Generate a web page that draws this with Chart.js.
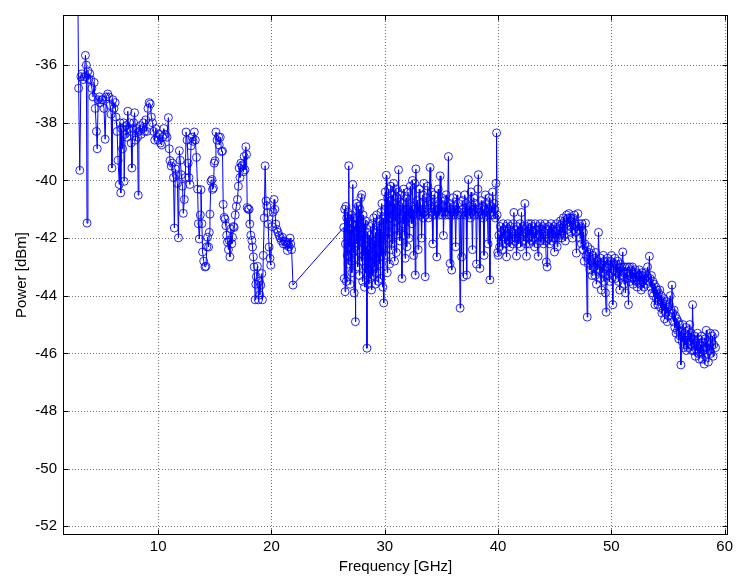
<!DOCTYPE html>
<html>
<head>
<meta charset="utf-8">
<title>Power spectrum</title>
<script src="https://cdn.jsdelivr.net/npm/chart.js@4/dist/chart.umd.min.js"></script>
<style>
  html, body { margin: 0; padding: 0; background: #ffffff; }
  #wrap { width: 736px; height: 581px; }
  canvas { display: block; }
</style>
</head>
<body>
<div id="wrap"><canvas id="spectrum" width="736" height="581"></canvas></div>
<script>
// Measured sweep, split by band. Frequencies in GHz, power in dBm.
const lowFreq = [
  2.92, 2.98, 3.08, 3.18, 3.28, 3.38, 3.48, 3.58, 3.66, 3.72,
  3.80, 3.88, 3.96, 4.05, 4.15, 4.25, 4.35, 4.45, 4.55, 4.62,
  4.70, 4.80, 4.90, 5.00, 5.10, 5.22, 5.32, 5.42, 5.55, 5.65,
  5.75, 5.85, 5.92, 6.00, 6.10, 6.20, 6.28, 6.38, 6.46, 6.57,
  6.64, 6.70, 6.78, 6.86, 6.94, 7.00, 7.08, 7.16, 7.24, 7.32,
  7.40, 7.48, 7.56, 7.62, 7.68, 7.76, 7.84, 7.92, 8.00, 8.10,
  8.18, 8.24, 8.30, 8.40, 8.50, 8.60, 8.70, 8.80, 8.90, 9.00,
  9.10, 9.20, 9.30, 9.40, 9.50, 9.60, 9.70, 9.80, 9.90, 10.00,
  10.10, 10.20, 10.30, 10.40, 10.50, 10.62, 10.78, 10.90, 10.98, 11.05,
  11.15, 11.25, 11.35, 11.43, 11.52, 11.60, 11.70, 11.79, 11.87, 11.95,
  12.05, 12.15, 12.22, 12.31, 12.40, 12.46, 12.55, 12.65, 12.72, 12.80,
  12.90, 13.00, 13.08, 13.19, 13.28, 13.38, 13.48, 13.55, 13.63, 13.72,
  13.78, 13.86, 13.92, 14.02, 14.13, 14.22, 14.30, 14.36, 14.45, 14.51,
  14.57, 14.66, 14.75, 14.80, 14.88, 14.95, 15.02, 15.10, 15.20, 15.33,
  15.39, 15.48, 15.60, 15.68, 15.74, 15.83, 15.90, 15.98, 16.05, 16.12,
  16.20, 16.27, 16.33, 16.42, 16.50, 16.56, 16.64, 16.71, 16.80, 16.90,
  17.00, 17.08, 17.15, 17.22, 17.30, 17.39, 17.44, 17.52, 17.59, 17.66,
  17.74, 17.80, 17.86, 17.94, 18.03, 18.09, 18.18, 18.27, 18.33, 18.40,
  18.47, 18.56, 18.62, 18.67, 18.76, 18.85, 18.92, 18.97, 19.06, 19.15,
  19.20, 19.28, 19.36, 19.44, 19.52, 19.59, 19.64, 19.70, 19.79, 19.87,
  19.94, 20.05, 20.15, 20.23, 20.30, 20.38, 20.48, 20.58, 20.67, 20.78,
  20.88, 20.96, 21.05, 21.15, 21.26, 21.34, 21.40, 21.48, 21.56, 21.64,
  21.70, 21.78, 21.90
];
const lowPower = [
  -33.9, -36.8, -39.65, -36.4, -36.3, -36.5, -36.4, -35.66, -36.0, -41.48,
  -36.2, -36.5, -36.3, -36.5, -36.8, -37.1, -36.6, -37.5, -38.3, -38.9,
  -37.2, -37.1, -37.3, -37.2, -37.2, -37.5, -38.57, -37.1, -37.0, -37.1,
  -37.4, -37.7, -39.57, -37.2, -37.5, -37.3, -37.8, -38.3, -39.3, -40.14,
  -38.0, -40.43, -38.2, -38.9, -38.0, -40.03, -38.4, -38.1, -38.5, -37.6,
  -38.2, -38.0, -38.3, -38.7, -39.57, -38.2, -38.0, -37.65, -38.6, -38.2,
  -38.5, -40.51, -38.3, -38.1, -38.4, -38.2, -38.0, -38.3, -37.9, -38.3,
  -37.5, -37.3, -37.35, -37.8, -38.0, -38.3, -38.6, -38.2, -38.5, -38.6,
  -38.4, -38.7, -38.77, -38.5, -38.2, -38.4, -38.5, -37.82, -38.9, -39.31,
  -39.5, -39.4, -39.9, -41.65, -39.6, -39.8, -40.1, -41.99, -38.97, -39.3,
  -39.8, -40.2, -41.14, -40.66, -39.9, -38.32, -38.6, -39.4, -39.9, -40.14,
  -38.8, -38.5, -38.64, -38.32, -38.6, -39.2, -40.3, -41.5, -42.03, -41.2,
  -40.32, -41.5, -42.48, -42.8, -43.0, -42.98, -42.3, -41.97, -42.31, -41.8,
  -41.17, -40.03, -39.97, -40.31, -40.26, -39.4, -39.32, -38.32, -38.6, -38.49,
  -38.77, -38.5, -39.0, -38.98, -40.83, -41.28, -41.34, -41.57, -41.9, -42.14,
  -42.4, -42.08, -42.65, -41.68, -42.2, -41.97, -41.6, -41.63, -41.2, -40.9,
  -40.66, -40.2, -39.57, -39.9, -39.4, -39.5, -39.46, -39.7, -39.17, -39.63,
  -38.83, -39.1, -40.94, -41.0, -41.0, -41.51, -41.9, -42.08, -42.31, -42.65,
  -43.0, -44.14, -43.6, -43.34, -42.98, -44.14, -43.5, -43.97, -43.63, -43.23,
  -44.14, -42.6, -41.3, -39.49, -40.71, -40.88, -41.11, -41.51, -42.31, -42.7,
  -42.94, -41.6, -41.1, -40.66, -41.0, -41.51, -41.7, -41.8, -41.91, -42.0,
  -42.1, -41.97, -42.2, -42.1, -42.14, -42.25, -42.43, -42.2, -42.3, -42.0,
  -42.2, -42.4, -43.63
];

const kaLowFreq = [
  26.38, 26.42, 26.46, 26.50, 26.53, 26.57, 26.61, 26.65, 26.69, 26.73,
  26.77, 26.82, 26.86, 26.90, 26.94, 26.98, 27.02, 27.06, 27.10, 27.14,
  27.18, 27.22, 27.26, 27.30, 27.34, 27.38, 27.41, 27.45, 27.49, 27.53,
  27.57, 27.61, 27.65, 27.69, 27.73, 27.77, 27.81, 27.85, 27.89, 27.93,
  27.97, 28.01, 28.05, 28.09, 28.13, 28.17, 28.21, 28.25, 28.29, 28.33,
  28.37, 28.43, 28.47, 28.51, 28.55, 28.59, 28.63, 28.67, 28.71, 28.75,
  28.79, 28.83, 28.87, 28.91, 28.95, 28.99, 29.03, 29.07, 29.11, 29.15,
  29.19, 29.23, 29.27, 29.31, 29.35, 29.39, 29.43, 29.47, 29.51, 29.55,
  29.59, 29.63, 29.67, 29.71, 29.75, 29.79, 29.83, 29.87, 29.91, 29.95,
  29.99
];
const kaLowPower = [
  -41.63, -43.4, -41.0, -43.86, -42.2, -40.9, -43.5, -41.3, -42.6, -41.1,
  -42.9, -39.49, -42.3, -41.4, -43.6, -41.7, -42.8, -41.2, -43.2, -41.5,
  -40.14, -42.5, -41.3, -43.9, -41.6, -42.7, -44.9, -41.8, -40.8, -42.2,
  -41.3, -43.0, -40.9, -42.4, -41.6, -43.3, -41.0, -42.1, -40.6, -42.8,
  -40.49, -41.9, -43.5, -41.2, -42.6, -41.5, -43.7, -42.0, -41.4, -43.2,
  -42.3, -45.82, -41.8, -43.1, -42.4, -43.6, -41.9, -42.8, -43.4, -41.6,
  -42.9, -43.8, -42.2, -41.5, -43.3, -42.6, -41.3, -43.0, -42.1, -43.6,
  -41.8, -42.7, -41.2, -43.2, -42.4, -41.6, -43.5, -42.0, -41.4, -42.9,
  -41.7, -43.4, -41.1, -42.6, -40.8, -42.3, -43.7, -41.3, -44.25, -42.0,
  -41.0
];

const kaHighFreq = [
  30.04, 30.08, 30.14, 30.18, 30.22, 30.26, 30.30, 30.34, 30.38, 30.42,
  30.46, 30.50, 30.54, 30.58, 30.62, 30.66, 30.70, 30.74, 30.78, 30.82,
  30.86, 30.90, 30.94, 30.98, 31.02, 31.06, 31.10, 31.14, 31.18, 31.22,
  31.26, 31.30, 31.34, 31.38, 31.42, 31.46, 31.52, 31.56, 31.60, 31.64,
  31.68, 31.72, 31.76, 31.80, 31.84, 31.88, 31.92, 31.96, 32.00, 32.05,
  32.10, 32.15, 32.20, 32.25, 32.30, 32.35, 32.40, 32.45, 32.50, 32.55,
  32.60, 32.65, 32.69, 32.75, 32.80, 32.85, 32.90, 32.95, 33.00, 33.05,
  33.10, 33.15, 33.20, 33.25, 33.30, 33.35, 33.40, 33.45, 33.50, 33.57,
  33.62, 33.68, 33.74, 33.80, 33.86, 33.92, 34.00, 34.06, 34.12, 34.18,
  34.24, 34.30, 34.36, 34.42, 34.48, 34.54, 34.59, 34.65, 34.72, 34.78,
  34.84, 34.89, 34.96, 35.02, 35.08, 35.14, 35.18, 35.24, 35.30, 35.36,
  35.42, 35.48, 35.55, 35.62, 35.68, 35.74, 35.77, 35.82, 35.86, 35.91,
  35.96, 36.02, 36.08, 36.14, 36.20, 36.26, 36.32, 36.38, 36.44, 36.50,
  36.56, 36.65, 36.70, 36.79, 36.84, 36.90, 36.94, 37.00, 37.06, 37.12,
  37.18, 37.23, 37.30, 37.38, 37.44, 37.50, 37.56, 37.62, 37.68, 37.74,
  37.80, 37.86, 37.92, 37.98, 38.04, 38.10, 38.16, 38.22, 38.26, 38.32,
  38.40, 38.46, 38.52, 38.58, 38.64, 38.70, 38.76, 38.82, 38.88, 38.94,
  39.00, 39.06, 39.12, 39.18, 39.24, 39.28, 39.34, 39.40, 39.46, 39.52,
  39.58, 39.64, 39.70, 39.76, 39.82, 39.87, 39.92, 39.97
];
const kaHighPower = [
  -40.4, -42.6, -39.82, -41.5, -43.2, -40.6, -42.0, -40.3, -41.8, -42.9,
  -40.7, -41.3, -40.2, -42.4, -41.0, -40.5, -42.2, -41.2, -40.1, -41.7,
  -42.8, -40.8, -41.4, -40.3, -42.5, -41.1, -40.6, -41.9, -40.4, -39.63,
  -41.3, -40.9, -42.1, -41.0, -40.5, -41.6, -43.4, -41.2, -40.8, -41.5,
  -40.3, -41.9, -41.1, -42.7, -41.0, -40.6, -41.3, -42.3, -41.0, -40.4,
  -41.2, -42.0, -41.1, -40.2, -41.3, -40.9, -41.5, -40.0, -41.2, -42.6,
  -41.0, -40.1, -43.28, -39.6, -41.2, -40.7, -41.1, -42.4, -41.0, -40.3,
  -41.2, -40.8, -41.1, -42.0, -41.0, -40.5, -41.3, -40.1, -41.1, -43.34,
  -41.2, -40.6, -41.0, -40.2, -41.3, -40.7, -39.55, -41.1, -40.4, -41.2,
  -42.2, -41.0, -40.5, -41.2, -40.9, -41.1, -42.65, -41.0, -40.3, -41.2,
  -40.8, -39.84, -41.1, -40.6, -41.2, -40.9, -41.91, -41.1, -40.7, -41.2,
  -40.5, -41.1, -40.9, -39.17, -41.2, -40.8, -42.88, -41.0, -41.2, -43.11,
  -41.1, -40.6, -41.2, -40.9, -41.1, -42.3, -41.0, -40.5, -41.2, -40.8,
  -41.1, -44.43, -41.2, -42.65, -41.0, -40.7, -43.34, -41.1, -40.5, -41.2,
  -40.8, -43.28, -41.1, -39.97, -41.2, -40.9, -41.3, -40.4, -41.1, -42.4,
  -41.0, -40.6, -41.2, -40.8, -41.1, -42.9, -41.0, -40.3, -39.8, -41.2,
  -43.05, -41.1, -40.7, -41.2, -40.9, -41.3, -42.6, -41.0, -40.5, -41.2,
  -40.8, -41.1, -42.2, -41.0, -40.6, -43.45, -41.2, -40.9, -41.1, -40.4,
  -41.2, -40.8, -41.0, -41.3, -40.1, -38.35, -41.2, -42.5
];

const qBandFreq = [
  40.02, 40.08, 40.14, 40.20, 40.26, 40.32, 40.38, 40.44, 40.50, 40.56,
  40.62, 40.68, 40.75, 40.80, 40.86, 40.92, 40.98, 41.04, 41.10, 41.16,
  41.22, 41.28, 41.34, 41.40, 41.46, 41.52, 41.58, 41.63, 41.70, 41.76,
  41.82, 41.88, 41.94, 42.00, 42.07, 42.12, 42.18, 42.24, 42.30, 42.37,
  42.42, 42.46, 42.51, 42.56, 42.62, 42.68, 42.74, 42.80, 42.86, 42.92,
  42.98, 43.04, 43.10, 43.16, 43.22, 43.28, 43.34, 43.40, 43.46, 43.54,
  43.60, 43.66, 43.72, 43.78, 43.84, 43.90, 43.96, 44.02, 44.08, 44.14,
  44.20, 44.26, 44.33, 44.38, 44.44, 44.50, 44.56, 44.62, 44.68, 44.74,
  44.80, 44.86, 44.92, 44.98, 45.04, 45.10, 45.16, 45.22, 45.28, 45.34,
  45.40, 45.46, 45.52, 45.58, 45.64, 45.70, 45.76, 45.82, 45.88, 45.94,
  46.00, 46.06, 46.12, 46.18, 46.26, 46.32, 46.38, 46.44, 46.50, 46.56,
  46.62, 46.68, 46.74, 46.80, 46.86, 46.92, 46.98, 47.05, 47.12, 47.18,
  47.24, 47.30, 47.36
];
const qBandPower = [
  -42.6, -41.9, -42.3, -41.6, -42.1, -41.8, -42.4, -41.5, -42.0, -41.7,
  -42.2, -41.6, -42.65, -41.9, -41.5, -42.1, -41.7, -42.3, -41.6, -42.0,
  -41.8, -42.2, -41.5, -41.11, -42.1, -41.7, -42.0, -42.62, -41.6, -42.2,
  -41.8, -42.0, -41.5, -42.3, -41.11, -41.9, -41.6, -42.1, -41.7, -40.8,
  -41.8, -42.2, -42.63, -41.6, -42.0, -41.5, -42.2, -41.7, -41.9, -41.5,
  -42.1, -41.6, -42.0, -41.8, -42.3, -41.5, -42.0, -41.7, -42.2, -42.63,
  -41.6, -41.9, -41.5, -42.1, -41.7, -42.0, -41.6, -42.2, -41.8, -41.5,
  -42.1, -42.83, -43.0, -41.7, -42.0, -41.6, -42.2, -41.8, -41.5, -42.1,
  -41.7, -42.0, -41.6, -42.48, -41.8, -42.0, -41.5, -42.3, -41.7, -42.0,
  -41.6, -41.9, -41.4, -42.0, -41.5, -41.8, -41.3, -41.9, -41.4, -42.1,
  -41.5, -41.2, -41.7, -41.3, -41.15, -41.6, -41.3, -41.8, -41.4, -42.0,
  -41.3, -41.7, -41.2, -41.5, -41.8, -42.52, -41.6, -41.15, -41.7, -41.5,
  -42.0, -41.6, -42.2
];

const vBandFreq = [
  47.42, 47.48, 47.54, 47.60, 47.66, 47.72, 47.78, 47.87, 47.92, 47.98,
  48.04, 48.10, 48.16, 48.22, 48.30, 48.37, 48.44, 48.50, 48.56, 48.62,
  48.68, 48.74, 48.80, 48.87, 48.94, 49.00, 49.06, 49.12, 49.18, 49.24,
  49.30, 49.36, 49.42, 49.48, 49.54, 49.60, 49.66, 49.72, 49.78, 49.84,
  49.90, 49.96, 50.02, 50.08, 50.13, 50.20, 50.26, 50.32, 50.38, 50.44,
  50.50, 50.56, 50.62, 50.68, 50.74, 50.80, 50.86, 50.92, 51.01, 51.06,
  51.12, 51.18, 51.24, 51.30, 51.36, 51.42, 51.51, 51.56, 51.62, 51.68,
  51.74, 51.80, 51.86, 51.92, 51.98, 52.04, 52.10, 52.16, 52.22, 52.28,
  52.34, 52.40, 52.46, 52.52, 52.58, 52.64, 52.70, 52.76, 52.82, 52.88,
  52.94, 53.00, 53.06, 53.12, 53.20, 53.28, 53.36, 53.42, 53.48, 53.54,
  53.60, 53.66, 53.72, 53.78, 53.85, 53.92, 53.98, 54.04, 54.10, 54.16,
  54.22, 54.28, 54.34, 54.40, 54.46, 54.52, 54.58, 54.64, 54.70, 54.76,
  54.82, 54.88, 54.94, 55.00, 55.06, 55.12, 55.20, 55.28, 55.35, 55.42,
  55.48, 55.54, 55.60, 55.66, 55.72, 55.78, 55.84, 55.90, 55.96, 56.02,
  56.08, 56.14, 56.20, 56.26, 56.32, 56.38, 56.44, 56.50, 56.56, 56.62,
  56.68, 56.74, 56.80, 56.86, 56.92, 56.98, 57.04, 57.10, 57.17, 57.24,
  57.30, 57.36, 57.42, 57.48, 57.54, 57.60, 57.66, 57.72, 57.78, 57.84,
  57.90, 57.96, 58.02, 58.08, 58.14, 58.20, 58.26, 58.32, 58.38, 58.44,
  58.50, 58.56, 58.62, 58.68, 58.74, 58.80, 58.86, 58.92, 58.98, 59.04,
  59.13, 59.20
];
const vBandPower = [
  -41.5, -42.4, -41.8, -42.8, -42.2, -41.48, -42.6, -44.74, -42.3, -42.9,
  -42.5, -43.1, -42.4, -42.8, -43.3, -42.6, -43.0, -42.7, -43.3, -42.5,
  -43.6, -42.8, -43.1, -41.8, -42.9, -43.4, -42.7, -43.8, -42.9, -43.2,
  -42.6, -43.5, -42.8, -43.9, -44.57, -43.0, -42.7, -43.3, -42.9, -43.5,
  -42.8, -43.2, -42.6, -43.4, -44.31, -42.9, -43.1, -42.7, -43.4, -42.9,
  -43.2, -42.8, -43.5, -43.0, -43.8, -42.9, -43.3, -43.0, -42.48, -43.2,
  -43.6, -43.0, -43.9, -43.2, -43.4, -43.0, -44.31, -43.3, -43.0, -43.5,
  -43.1, -43.4, -43.0, -43.6, -43.2, -43.4, -43.1, -43.5, -43.2, -43.7,
  -43.3, -43.5, -43.1, -43.6, -43.3, -43.8, -43.2, -43.5, -43.3, -43.7,
  -43.4, -43.2, -43.6, -43.3, -43.0, -43.5, -42.63, -43.4, -43.7, -43.3,
  -43.9, -43.5, -44.0, -43.6, -44.31, -43.7, -44.1, -43.8, -44.3, -43.9,
  -44.2, -43.8, -44.4, -44.0, -44.6, -44.2, -44.5, -44.1, -44.8, -44.3,
  -44.6, -44.2, -44.9, -44.4, -44.7, -44.3, -44.0, -44.5, -43.63, -44.6,
  -44.9, -44.5, -45.1, -44.7, -45.3, -44.8, -45.2, -44.9, -45.5, -45.0,
  -45.4, -46.4, -45.2, -45.6, -45.0, -45.8, -45.3, -45.7, -45.1, -45.9,
  -45.4, -45.8, -45.2, -45.6, -45.0, -45.7, -45.3, -45.9, -44.31, -45.5,
  -45.9, -45.4, -46.1, -45.6, -45.9, -45.3, -46.0, -45.5, -46.2, -45.7,
  -46.0, -45.4, -46.2, -45.6, -45.9, -46.37, -45.5, -45.8, -45.2, -46.0,
  -45.6, -46.3, -45.7, -45.9, -45.3, -46.0, -45.6, -45.4, -46.1, -45.7,
  -45.32, -45.8
];

// Axis ticks
const freqTicks = [10, 20, 30, 40, 50, 60];
const powerTicks = [-52, -50, -48, -46, -44, -42, -40, -38, -36];

// One continuous trace built from the bands in sweep order.
const bands = [
  [lowFreq, lowPower],
  [kaLowFreq, kaLowPower],
  [kaHighFreq, kaHighPower],
  [qBandFreq, qBandPower],
  [vBandFreq, vBandPower]
];
const trace = [];
bands.forEach(([f, p]) => {
  const n = Math.min(f.length, p.length);
  for (let i = 0; i < n; i++) trace.push({ x: f[i], y: p[i] });
});

const FONT = "'Liberation Sans', Arial, Helvetica, sans-serif";
const FONT_SIZE = 15;

// Dotted grid under the data, boxed frame with inward ticks on top.
const matlabFrame = {
  id: 'matlabFrame',
  beforeDatasetsDraw(chart) {
    const { ctx, chartArea: a, scales: { x, y } } = chart;
    ctx.save();
    ctx.strokeStyle = 'rgba(0,0,0,0.55)';
    ctx.lineWidth = 1;
    ctx.setLineDash([1, 2]);
    freqTicks.forEach(v => {
      const px = Math.round(x.getPixelForValue(v)) + 0.5;
      ctx.beginPath(); ctx.moveTo(px, a.top); ctx.lineTo(px, a.bottom); ctx.stroke();
    });
    powerTicks.forEach(v => {
      const py = Math.round(y.getPixelForValue(v)) + 0.5;
      ctx.beginPath(); ctx.moveTo(a.left, py); ctx.lineTo(a.right, py); ctx.stroke();
    });
    ctx.restore();
  },
  afterDatasetsDraw(chart) {
    const { ctx, chartArea: a, scales: { x, y } } = chart;
    const L = Math.round(a.left) + 0.5, R = Math.round(a.right) - 0.5;
    const T = Math.round(a.top) + 0.5, B = Math.round(a.bottom) - 0.5;
    const len = 5;
    ctx.save();
    ctx.strokeStyle = '#000000';
    ctx.lineWidth = 1;
    ctx.setLineDash([]);
    ctx.strokeRect(L, T, R - L, B - T);
    ctx.beginPath();
    freqTicks.forEach(v => {
      const px = Math.round(x.getPixelForValue(v)) + 0.5;
      ctx.moveTo(px, B); ctx.lineTo(px, B - len);
      ctx.moveTo(px, T); ctx.lineTo(px, T + len);
    });
    powerTicks.forEach(v => {
      const py = Math.round(y.getPixelForValue(v)) + 0.5;
      ctx.moveTo(L, py); ctx.lineTo(L + len, py);
      ctx.moveTo(R, py); ctx.lineTo(R - len, py);
    });
    ctx.stroke();
    ctx.restore();
  }
};

new Chart(document.getElementById('spectrum'), {
  type: 'scatter',
  data: {
    datasets: [{
      data: trace,
      showLine: true,
      borderColor: '#0000ff',
      borderWidth: 1,
      tension: 0,
      pointStyle: 'circle',
      pointRadius: 4,
      pointBorderWidth: 1,
      pointBorderColor: 'rgba(0,0,255,0.85)',
      pointBackgroundColor: 'rgba(0,0,0,0)',
      clip: 0
    }]
  },
  options: {
    responsive: false,
    animation: false,
    devicePixelRatio: 1,
    events: [],
    layout: { padding: { top: 8, right: 6, left: 0, bottom: 0 } },
    plugins: {
      legend: { display: false },
      tooltip: { enabled: false }
    },
    scales: {
      x: {
        type: 'linear',
        min: 1.6,
        max: 60.3,
        afterFit(scale) { scale.height = 46; },
        afterBuildTicks(scale) { scale.ticks = freqTicks.map(v => ({ value: v })); },
        grid: { display: false, drawTicks: false },
        border: { display: false },
        ticks: {
          color: '#000000',
          font: { family: FONT, size: FONT_SIZE },
          padding: 3,
          maxRotation: 0,
          autoSkip: false
        },
        title: {
          display: true,
          text: 'Frequency [GHz]',
          color: '#000000',
          font: { family: FONT, size: FONT_SIZE },
          padding: { top: 0, bottom: 5 }
        }
      },
      y: {
        type: 'linear',
        min: -52.3,
        max: -34.26,
        afterFit(scale) { scale.width = 63; },
        afterBuildTicks(scale) { scale.ticks = powerTicks.map(v => ({ value: v })); },
        grid: { display: false, drawTicks: false },
        border: { display: false },
        ticks: {
          color: '#000000',
          font: { family: FONT, size: FONT_SIZE },
          padding: 6,
          autoSkip: false
        },
        title: {
          display: true,
          text: 'Power [dBm]',
          color: '#000000',
          font: { family: FONT, size: FONT_SIZE },
          padding: { top: 13, bottom: 0 }
        }
      }
    }
  },
  plugins: [matlabFrame]
});
</script>
</body>
</html>
